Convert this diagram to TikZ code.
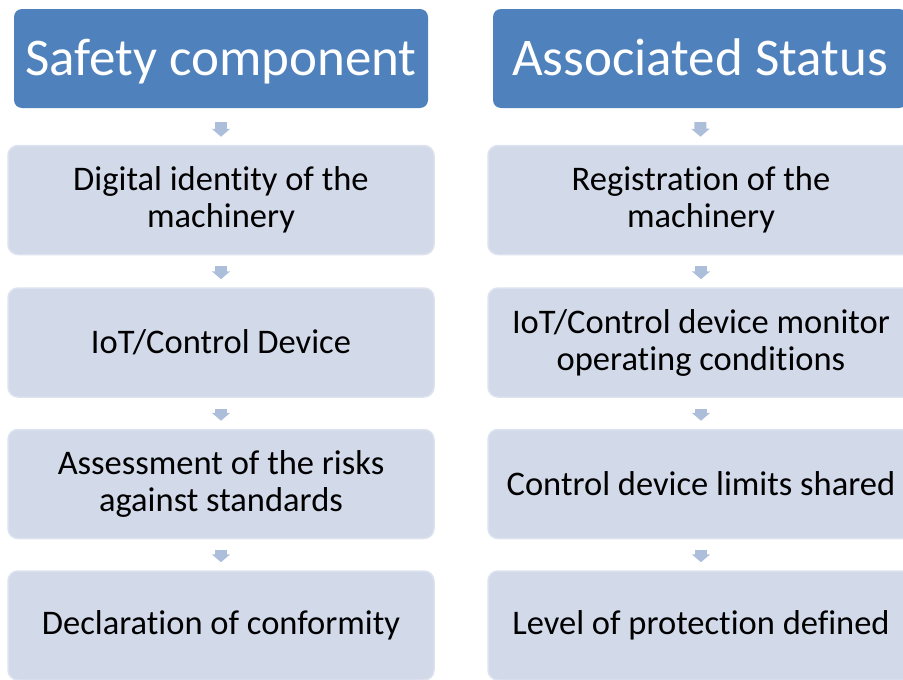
\documentclass[tikz,border=0pt]{standalone}
\usepackage{fontspec}
\setmainfont{Carlito}[Ligatures=CommonOff]
\usetikzlibrary{arrows.meta,positioning,calc}

\definecolor{headblue}{HTML}{4F81BD}
\definecolor{stepfill}{HTML}{D2D9E9}
\definecolor{stepline}{HTML}{DCE2EE}
\definecolor{flowblue}{HTML}{ADBEDB}

\begin{document}
\begin{tikzpicture}[x=1pt, y=1pt,
  head/.style={rectangle, rounded corners=8pt, fill=headblue, text=white,
    minimum width=414pt, minimum height=99pt, inner sep=0pt,
    text height=34pt, text depth=0pt,
    font=\fontsize{53}{60}\selectfont},
  stepbox/.style={rectangle, rounded corners=10pt, fill=stepfill, draw=stepline,
    line width=1.5pt, minimum width=426pt, minimum height=109pt, inner sep=0pt,
    align=center, font=\fontsize{34.5}{37}\selectfont},
  flow/.style={flowblue, line width=12pt,
    -{Triangle[width=18pt, length=8pt]}, shorten >=8pt, shorten <=11pt},
]
\clip (0,0) rectangle (903,-680);
% left column
\node (h1) [head] at (221,-58.5) {Safety component};
\node (a1) [stepbox] at (221,-200) {Digital identity of the\\machinery};
\node (a2) [stepbox] at (221,-342.5) {IoT/Control Device};
\node (a3) [stepbox] at (221,-484) {Assessment of the risks\\against standards};
\node (a4) [stepbox] at (221,-625.5) {Declaration of conformity};
% right column
\node (h2) [head] at (700,-58.5) {Associated Status};
\node (b1) [stepbox] at (701,-200) {Registration of the\\machinery};
\node (b2) [stepbox] at (701,-342.5) {IoT/Control device monitor\\operating conditions};
\node (b3) [stepbox] at (701,-484) {Control device limits shared};
\node (b4) [stepbox] at (701,-625.5) {Level of protection defined};
% arrows
\draw[flow, shorten <=14pt] (h1) -- (a1);
\draw[flow] (a1) -- (a2);
\draw[flow] (a2) -- (a3);
\draw[flow] (a3) -- (a4);
\draw[flow, shorten <=14pt] (h2) -- (b1);
\draw[flow] (b1) -- (b2);
\draw[flow] (b2) -- (b3);
\draw[flow] (b3) -- (b4);
\end{tikzpicture}
\end{document}
